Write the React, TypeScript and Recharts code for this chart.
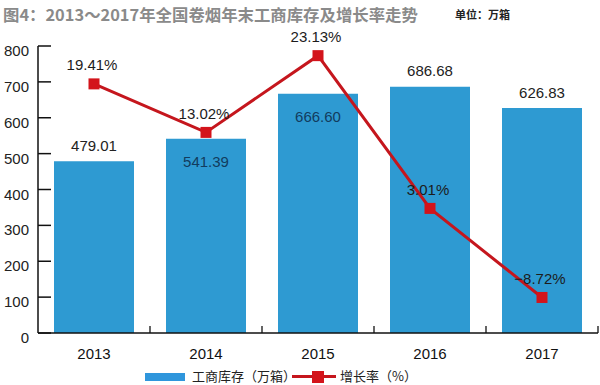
import React from 'react';
import { ComposedChart, Bar, Line, XAxis, YAxis, Legend, LabelList } from 'recharts';

const years = ['2013', '2014', '2015', '2016', '2017'];
const inventory = [479.01, 541.39, 666.6, 686.68, 626.83];
const growth = [19.41, 13.02, 23.13, 3.01, -8.72];
const leftTicks = [0, 100, 200, 300, 400, 500, 600, 700, 800];

const data = years.map((y, i) => ({ year: y, inventory: inventory[i], growth: growth[i] }));

const NUM_FONT = '"Liberation Sans", Arial, sans-serif';
const CJK_FONT = '"Noto Sans CJK SC", "Noto Sans", sans-serif';
const BAR_COLOR = '#2e9ad2';
const RED = '#d3141b';
const LINE_RED = '#c5161d';
// label placement per bar: outside (above) or inside
const barLabelInside = [false, true, true, false, false];

const XTick = (props: any) => {
  const { x, y, payload } = props;
  const off = payload && typeof payload.offset === 'number' ? payload.offset : 0;
  return (
    <g>
      <text x={x} y={y + 25.5} textAnchor="middle" fontSize={15} fill="#111" fontFamily={NUM_FONT}>
        {payload.value}
      </text>
      {off > 0 && <line x1={x + off} x2={x + off} y1={y} y2={y - 7} stroke="#111" strokeWidth={1.3} />}
    </g>
  );
};

const YTick = (props: any) => {
  const { x, y, payload } = props;
  return (
    <text x={x - 1} y={y + 10} textAnchor="end" fontSize={15} fill="#222" fontFamily={NUM_FONT}>
      {payload.value}
    </text>
  );
};

const BarLabel = (props: any) => {
  const { x, y, width, value, index } = props;
  const inside = barLabelInside[index];
  const ty = inside ? y + 28 : y - 10.5;
  return (
    <text x={x + width / 2} y={ty} textAnchor="middle" fontSize={15} fill={inside ? '#123c5e' : '#222'} fontFamily={NUM_FONT}>
      {Number(value).toFixed(2)}
    </text>
  );
};

const LineLabel = (props: any) => {
  const { x, y, value } = props;
  const s = value < 0 ? '\u2212' + Math.abs(value).toFixed(2) + '%' : Number(value).toFixed(2) + '%';
  return (
    <text x={x - 2} y={y - 13.5} textAnchor="middle" fontSize={15} fill="#1c1c1c" fontFamily={NUM_FONT}>
      {s}
    </text>
  );
};

const SquareDot = (props: any) => {
  const { cx, cy } = props;
  if (cx == null || cy == null) return null;
  return <rect x={cx - 5.5} y={cy - 5.5} width={11} height={11} fill={RED} />;
};

const LegendContent = () => (
  <div style={{ position: 'relative', width: 600, height: 18, fontFamily: CJK_FONT, fontSize: 13, color: '#222' }}>
    <div style={{ position: 'absolute', left: 145, top: 6, width: 40, height: 8, background: '#2f96dc' }} />
    <div style={{ position: 'absolute', left: 192, top: 0, lineHeight: '18px', whiteSpace: 'nowrap' }}>工商库存（万箱）</div>
    <div style={{ position: 'absolute', left: 292, top: 8, width: 44, height: 3, background: LINE_RED }} />
    <div style={{ position: 'absolute', left: 312, top: 3.5, width: 12, height: 12, background: RED }} />
    <div style={{ position: 'absolute', left: 340, top: 0, lineHeight: '18px', whiteSpace: 'nowrap' }}>增长率（%）</div>
  </div>
);

export default function App() {
  return (
    <div style={{ position: 'absolute', left: 0, top: 0, width: 600, height: 385, background: '#fff' }}>
      <div
        style={{
          position: 'absolute', left: 3, top: 3, fontFamily: CJK_FONT, fontSize: 16.4, fontWeight: 700,
          color: '#8a8a8a', whiteSpace: 'nowrap', lineHeight: '22px',
        }}
      >
        图4：2013～2017年全国卷烟年末工商库存及增长率走势
      </div>
      <div
        style={{
          position: 'absolute', left: 455, top: 5, fontFamily: CJK_FONT, fontSize: 11, fontWeight: 700,
          color: '#222', whiteSpace: 'nowrap', lineHeight: '18px',
        }}
      >
        单位：万箱
      </div>
      <ComposedChart width={600} height={385} data={data} margin={{ top: 46, right: 2, left: 0, bottom: 0 }}>
        <XAxis
          dataKey="year"
          height={34}
          tickLine={false}
          tickSize={0}
          tickMargin={0}
          axisLine={{ stroke: '#111', strokeWidth: 1.5 }}
          tick={<XTick />}
          interval={0}
        />
        <YAxis
          yAxisId="left"
          width={38}
          domain={[0, 800]}
          ticks={leftTicks}
          interval={0}
          tickSize={-13}
          tickMargin={21}
          axisLine={{ stroke: '#111', strokeWidth: 1.5 }}
          tickLine={{ stroke: '#111', strokeWidth: 1.5 }}
          tick={<YTick />}
        />
        <YAxis yAxisId="right" orientation="right" hide domain={[-13.4, 24.4]} />
        <Legend verticalAlign="bottom" content={<LegendContent />} wrapperStyle={{ left: 0, bottom: 0, width: 600, height: 18 }} />
        <Bar yAxisId="left" dataKey="inventory" fill={BAR_COLOR} barSize={80} isAnimationActive={false}>
          <LabelList dataKey="inventory" content={<BarLabel />} />
        </Bar>
        <Line
          yAxisId="right"
          dataKey="growth"
          stroke={LINE_RED}
          strokeWidth={3}
          dot={<SquareDot />}
          activeDot={false}
          isAnimationActive={false}
        >
          <LabelList dataKey="growth" content={<LineLabel />} />
        </Line>
      </ComposedChart>
    </div>
  );
}
